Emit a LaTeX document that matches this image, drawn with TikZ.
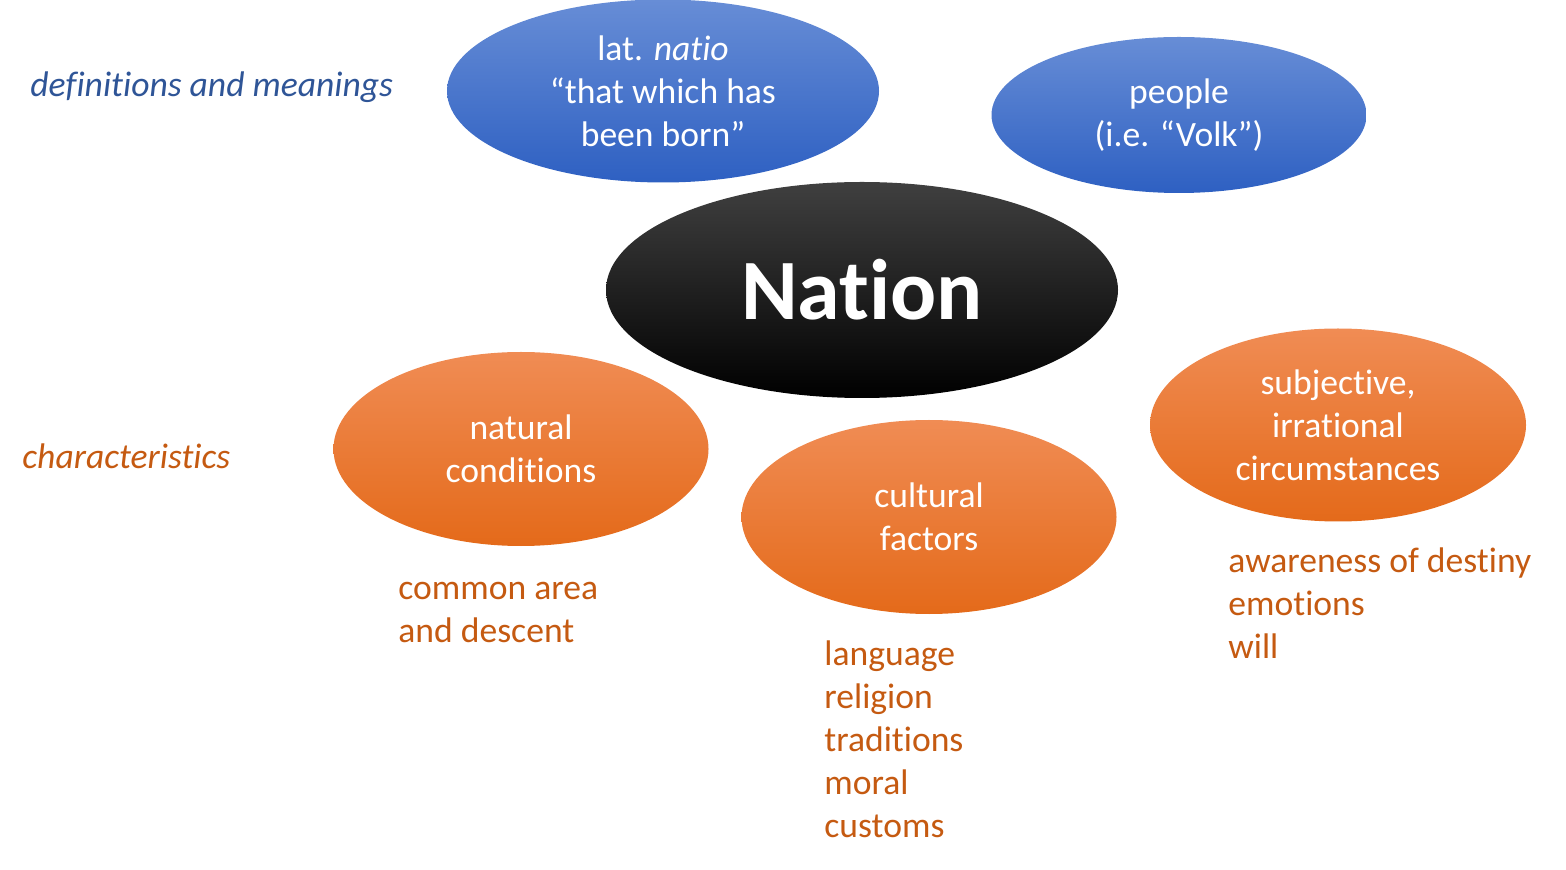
\documentclass[tikz,border=0pt]{standalone}
\usepackage{fontspec}
\setmainfont{Carlito}[Ligatures=TeX,RawFeature={-liga;-clig;-calt;-dlig;-rlig;-ccmp}]
\usepackage{xcolor}
\usetikzlibrary{shapes.geometric,positioning}

\definecolor{blueTop}{RGB}{103,141,214}
\definecolor{blueMid}{RGB}{66,113,205}
\definecolor{blueBot}{RGB}{46,96,194}
\definecolor{orTop}{RGB}{240,140,84}
\definecolor{orMid}{RGB}{241,125,42}
\definecolor{orBot}{RGB}{228,106,26}
\definecolor{orText}{RGB}{197,90,17}
\definecolor{blText}{RGB}{47,85,151}

\begin{document}
\begin{tikzpicture}[
    x=0.5pt,y=-0.5pt,
    every node/.style={font=\fontsize{17.8}{21.5}\selectfont},
    oval/.style={ellipse,inner sep=0pt,align=center,text=white},
    meaning/.style={oval,top color=blueTop,middle color=blueMid,bottom color=blueBot},
    trait/.style={oval,top color=orTop,middle color=orMid,bottom color=orBot},
    list/.style={anchor=north west,inner sep=0pt,align=left,text=orText,execute at begin node=\strut}
]
\useasboundingbox (0,0) rectangle (1566,870);

\node[meaning,minimum width=216pt,minimum height=91.5pt] (natio) at (663,91) {lat. \textit{natio}\\“that which has\\been born”};
\node[meaning,minimum width=187.5pt,minimum height=78pt] (volk) at (1179,115) {people\\(i.e. “Volk”)};

\node[ellipse,inner sep=0pt,minimum width=256pt,minimum height=108pt,
      top color=black!75,middle color=black,bottom color=black,text=white,
      font=\fontsize{43}{50}\selectfont\bfseries] (nation) at (862,290) {Nation};

\node[trait,minimum width=187.5pt,minimum height=97pt] (nat) at (521,449) {natural\\conditions};
\node[trait,minimum width=187.5pt,minimum height=97pt] (cult) at (929,517) {cultural\\factors};
\node[trait,minimum width=188pt,minimum height=96.5pt] (subj) at (1338,425) {subjective,\\irrational\\circumstances};

\node[anchor=west,inner sep=0pt,text=blText,font=\fontsize{17.8}{21.5}\selectfont\itshape] (defs) at (30,87) {definitions and meanings};
\node[anchor=west,inner sep=0pt,text=orText,font=\fontsize{17.8}{21.5}\selectfont\itshape] (chars) at (22,456) {characteristics};

\node[list] (natlist) at (398,582) {common area\\and descent};
\node[list] (cultlist) at (824,640) {language\\religion\\traditions\\moral\\customs};
\node[list] (subjlist) at (1228,547) {awareness of destiny\\emotions\\will};
\end{tikzpicture}
\end{document}
